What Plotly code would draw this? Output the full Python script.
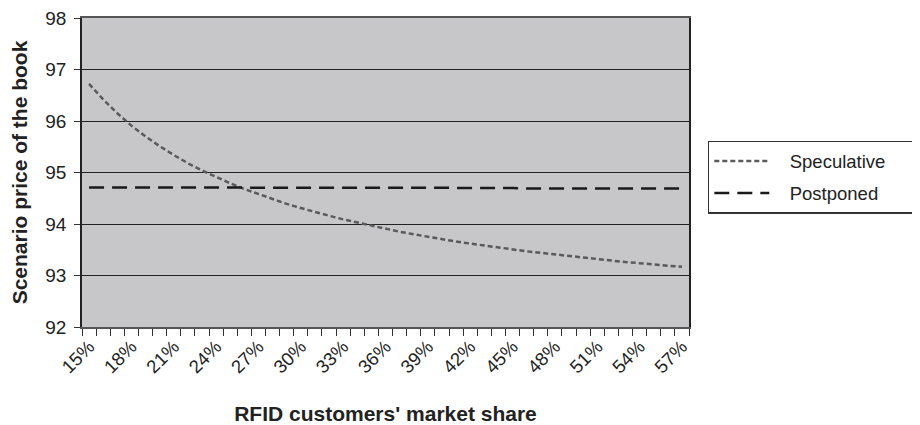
import plotly.graph_objects as go

share = [15, 16, 17, 18, 19, 20, 21, 22, 23, 24, 25, 26, 27, 28, 29, 30, 31, 32, 33, 34, 35,
         36, 37, 38, 39, 40, 41, 42, 43, 44, 45, 46, 47, 48, 49, 50, 51, 52, 53, 54, 55, 56, 57]
speculative = [96.72, 96.42, 96.15, 95.91, 95.70, 95.51, 95.34, 95.18, 95.04, 94.91, 94.79,
               94.68, 94.58, 94.48, 94.39, 94.31, 94.23, 94.16, 94.09, 94.03, 93.96, 93.91,
               93.85, 93.80, 93.75, 93.71, 93.66, 93.62, 93.58, 93.54, 93.51, 93.47, 93.44,
               93.41, 93.37, 93.35, 93.32, 93.29, 93.26, 93.24, 93.21, 93.19, 93.17]
postponed = [94.71, 94.71, 94.71, 94.71, 94.71, 94.71, 94.71, 94.71, 94.71, 94.71, 94.71,
             94.70, 94.70, 94.70, 94.70, 94.70, 94.70, 94.70, 94.70, 94.70, 94.70, 94.70,
             94.70, 94.70, 94.70, 94.70, 94.70, 94.70, 94.70, 94.70, 94.70, 94.69, 94.69,
             94.69, 94.69, 94.69, 94.69, 94.69, 94.69, 94.69, 94.69, 94.69, 94.69]
tick_vals = [15, 18, 21, 24, 27, 30, 33, 36, 39, 42, 45, 48, 51, 54, 57]
tick_text = [f"{v}%" for v in tick_vals]

FONT = "Liberation Sans, Arial, sans-serif"
NB = "\u00a0"

fig = go.Figure()
fig.add_trace(go.Scatter(x=share, y=speculative, mode="lines",
                         name=NB * 3 + "Speculative" + NB * 5, legendgroup="a",
                         line=dict(color="#5a5a5a", width=2.5, dash="5px,3px")))
fig.add_trace(go.Scatter(x=share, y=postponed, mode="lines",
                         name=NB * 3 + "Postponed", legendgroup="b",
                         line=dict(color="#1a1a1a", width=2.5, dash="15px,8px")))

fig.update_layout(
    width=920, height=425,
    margin=dict(l=74, r=233, t=10, b=106),
    paper_bgcolor="white",
    plot_bgcolor="#c7c7c9",
    font=dict(family=FONT, size=19, color="#222222"),
    showlegend=True,
    legend=dict(x=1.031, y=0.602, xanchor="left", yanchor="top",
                bordercolor="#333333", borderwidth=1.5, bgcolor="white",
                font=dict(family=FONT, size=18.5, color="#222222"),
                itemwidth=55, tracegroupgap=5),
    xaxis=dict(
        range=[14.5, 57.5], tickmode="array", tickvals=tick_vals, ticktext=tick_text,
        tickangle=-45, ticks="", showgrid=False, zeroline=False, automargin=False,
        showline=True, linecolor="#555555", linewidth=1.5, mirror=True,
        ticklabeloverflow="allow",
        minor=dict(tick0=14.5, dtick=1, ticks="outside", ticklen=7, tickcolor="#333333",
                   tickwidth=1.2, showgrid=False),
        tickfont=dict(size=18.5),
        title=dict(text="<b>RFID customers' market share</b>", font=dict(size=21), standoff=30),
    ),
    yaxis=dict(
        range=[92, 98], dtick=1, ticks="outside", ticklen=6, tickcolor="#333333",
        showgrid=True, gridcolor="#222222", gridwidth=1.2, zeroline=False, automargin=False,
        showline=True, linecolor="#222222", linewidth=1.5, mirror=True,
        ticklabeloverflow="allow", ticklabelstandoff=4,
        tickfont=dict(size=19),
        title=dict(text="<b>Scenario price of the book</b>", font=dict(size=21), standoff=22),
    ),
)

fig.write_html("out.html")
